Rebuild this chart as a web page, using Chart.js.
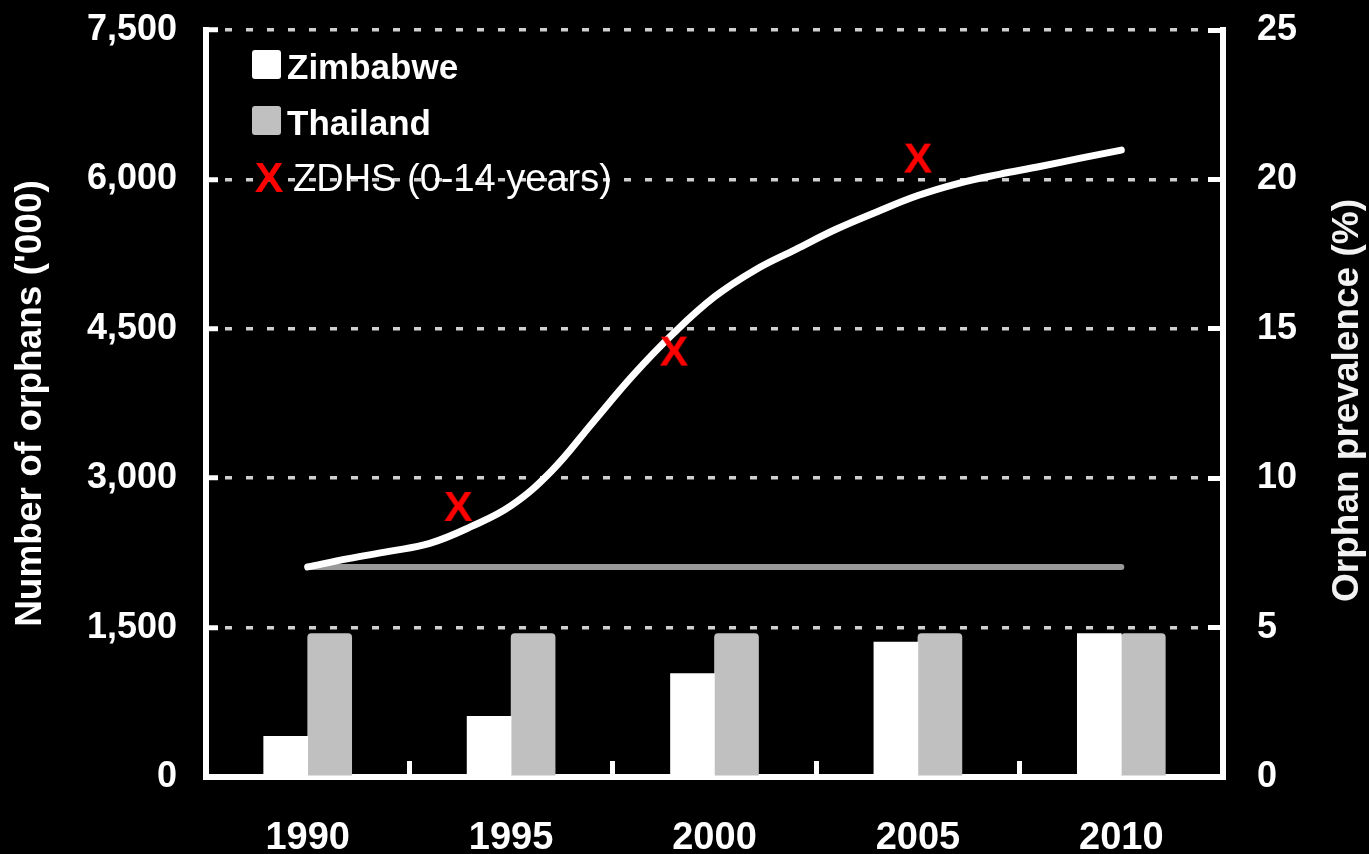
<!DOCTYPE html>
<html>
<head>
<meta charset="utf-8">
<script src="https://cdn.jsdelivr.net/npm/chart.js@4/dist/chart.umd.min.js"></script>
<style>
  html, body { margin: 0; padding: 0; background: #000; }
  #wrap { width: 1369px; height: 854px; position: relative; background: #000; }
</style>
</head>
<body>
<div id="wrap"><canvas id="c"></canvas></div>
<script>
// ---- Data ----
const categories = ['1990', '1995', '2000', '2005', '2010'];
const zimbabweOrphans = [408, 609, 1038, 1355, 1440];      // '000
const thailandOrphans = [1440, 1440, 1440, 1440, 1440];     // '000
const prevalenceYears = [1990, 1991, 1992, 1993, 1994, 1995, 1996, 1997, 1998, 1999, 2000,
                         2001, 2002, 2003, 2004, 2005, 2006, 2007, 2008, 2009, 2010];
const zimbabwePrevalence = [7.03, 7.31, 7.55, 7.82, 8.37, 9.08, 10.25, 11.85, 13.45, 14.86, 16.07,
                            16.97, 17.66, 18.34, 18.92, 19.46, 19.87, 20.17, 20.43, 20.71, 20.98];
const thailandYears = [1990, 1995, 2000, 2005, 2010];
const thailandPrevalence = [7.03, 7.03, 7.03, 7.03, 7.03];
const zdhsYears = [1993.7, 1999, 2005];
const zdhsPrevalence = [9.07, 14.27, 20.73];
const leftTicks = [0, 1500, 3000, 4500, 6000, 7500];
const rightTicks = [0, 5, 10, 15, 20, 25];
const leftTitle = "Number of orphans ('000)";
const rightTitle = 'Orphan prevalence (%)';

const categoryYears = categories.map(Number);
const halfStep = 2.5; // half of the 5-year category spacing
const xMin = categoryYears[0] - halfStep;
const xMax = categoryYears[categoryYears.length - 1] + halfStep;

const FONT = "'Liberation Sans', Arial, Helvetica, sans-serif";
Chart.defaults.font.family = FONT;
Chart.defaults.color = '#ffffff';

function makeX(size) {
  const cv = document.createElement('canvas');
  cv.width = 34; cv.height = 40;
  const c = cv.getContext('2d');
  c.fillStyle = '#ff0000';
  c.font = 'bold ' + size + 'px ' + FONT;
  c.textAlign = 'center';
  c.textBaseline = 'alphabetic';
  c.fillText('X', 17, 20 + size * 0.716 / 2);
  return cv;
}
const xMarker = makeX(43);
const pairs = (xs, ys) => xs.map((x, i) => ({ x: x, y: ys[i] }));

const bgPlugin = {
  id: 'bg',
  beforeDraw(chart) {
    const { ctx, width, height } = chart;
    ctx.save(); ctx.fillStyle = '#000'; ctx.fillRect(0, 0, width, height); ctx.restore();
  }
};

const extrasPlugin = {
  id: 'extras',
  afterDraw(chart) {
    const ctx = chart.ctx;
    const ds = chart.data.datasets;
    ctx.save();
    // legend
    ctx.textAlign = 'left';
    ctx.textBaseline = 'alphabetic';
    ctx.font = 'bold 35px ' + FONT;
    const boxes = [ { d: ds[0], y: 50, tx: 287, by: 79 }, { d: ds[1], y: 106, tx: 287, by: 135 } ];
    boxes.forEach(b => {
      ctx.fillStyle = b.d.backgroundColor;
      ctx.beginPath(); ctx.roundRect(252, b.y, 29, 29, 3); ctx.fill();
      ctx.fillStyle = '#ffffff';
      ctx.fillText(b.d.label, b.tx, b.by);
    });
    ctx.drawImage(xMarker, 269 - 17, 177 - 20);
    ctx.font = '38px ' + FONT;
    ctx.fillStyle = '#ffffff';
    ctx.fillText(ds[4].label, 293, 191);
    // right axis title, reading bottom to top
    const y1 = chart.scales.y1;
    ctx.translate(1348, (chart.chartArea.top + chart.chartArea.bottom) / 2 - 3);
    ctx.rotate(-Math.PI / 2);
    ctx.font = 'bold 37px ' + FONT;
    ctx.textAlign = 'center';
    ctx.textBaseline = 'middle';
    ctx.fillStyle = '#f2f2f2';
    ctx.fillText(y1.options.title.text, 0, 0);
    ctx.restore();
  }
};

const vFix = s => { s.paddingTop = 0; s.paddingBottom = 0; };
const isCenter = v => categoryYears.includes(v);

new Chart(document.getElementById('c'), {
  type: 'bar',
  data: {
    datasets: [
      { label: 'Zimbabwe', data: pairs(categoryYears, zimbabweOrphans), backgroundColor: '#ffffff',
        xAxisID: 'x', yAxisID: 'y', order: 4, barThickness: 44 },
      { label: 'Thailand', data: pairs(categoryYears, thailandOrphans), backgroundColor: '#c0c0c0',
        xAxisID: 'x', yAxisID: 'y', order: 4, barThickness: 44, borderRadius: { topLeft: 4, topRight: 4 } },
      { type: 'line', label: 'Thailand prevalence', data: pairs(thailandYears, thailandPrevalence),
        xAxisID: 'x', yAxisID: 'y1', borderColor: '#999999', borderWidth: 6, pointRadius: 0,
        borderCapStyle: 'round', tension: 0, order: 2 },
      { type: 'line', label: 'Zimbabwe prevalence', data: pairs(prevalenceYears, zimbabwePrevalence),
        xAxisID: 'x', yAxisID: 'y1', borderColor: '#ffffff', borderWidth: 7, pointRadius: 0,
        borderCapStyle: 'round', borderJoinStyle: 'round', tension: 0.4, order: 1 },
      { type: 'scatter', label: 'ZDHS (0-14 years)', data: pairs(zdhsYears, zdhsPrevalence),
        xAxisID: 'x', yAxisID: 'y1', pointStyle: xMarker, pointRadius: 15, showLine: false, order: 0 }
    ]
  },
  options: {
    responsive: true,
    maintainAspectRatio: false,
    animation: false,
    events: [],
    layout: { padding: { top: 30, left: 0, right: 0, bottom: 0 } },
    plugins: { legend: { display: false }, tooltip: { enabled: false } },
    scales: {
      x: {
        type: 'linear', position: 'bottom', offset: false, min: xMin, max: xMax,
        afterBuildTicks(s) {
          const t = [];
          categoryYears.forEach(y => { t.push({ value: y - halfStep }); t.push({ value: y }); });
          t.push({ value: xMax });
          s.ticks = t;
        },
        grid: { offset: false, drawOnChartArea: false, drawTicks: true, tickLength: -16, tickWidth: 5,
                tickColor: c => (c.tick && isCenter(c.tick.value)) ? 'rgba(0,0,0,0)' : '#ffffff' },
        border: { display: true, color: '#ffffff', width: 6 },
        ticks: { color: '#ffffff', font: { size: 38, weight: 'bold' }, padding: 55, maxRotation: 0, autoSkip: false,
                 callback: v => isCenter(v) ? categories[categoryYears.indexOf(v)] : '' },
        afterFit(s) { s.height = 77; s.paddingLeft = 0; s.paddingRight = 0; }
      },
      y: {
        type: 'linear', position: 'left', min: 0, max: 7500,
        afterBuildTicks(s) { s.ticks = leftTicks.map(v => ({ value: v })); },
        grid: { drawOnChartArea: true, color: '#d0d0d0', lineWidth: 3.5,
                drawTicks: true, tickLength: -12, tickColor: '#ffffff', tickWidth: 5, tickBorderDash: [] },
        border: { display: true, color: '#ffffff', width: 6, dash: [7, 14], dashOffset: 5 },
        ticks: { color: '#ffffff', font: { size: 36, weight: 'bold' }, padding: 41,
                 callback: v => v.toLocaleString('en-US') },
        title: { display: true, text: leftTitle, color: '#ffffff', font: { size: 37, weight: 'bold' },
                 padding: { top: 9, bottom: 0 } },
        afterFit(s) { s.width = 206; vFix(s); }
      },
      y1: {
        type: 'linear', position: 'right', min: 0, max: 25,
        afterBuildTicks(s) { s.ticks = rightTicks.map(v => ({ value: v })); },
        grid: { drawOnChartArea: false, drawTicks: true, tickLength: -15, tickColor: '#ffffff', tickWidth: 5 },
        border: { display: true, color: '#ffffff', width: 6 },
        ticks: { color: '#ffffff', font: { size: 36, weight: 'bold' }, padding: 49 },
        title: { display: false, text: rightTitle },
        afterFit(s) { s.width = 146; vFix(s); }
      }
    }
  },
  plugins: [bgPlugin, extrasPlugin]
});
</script>
</body>
</html>
